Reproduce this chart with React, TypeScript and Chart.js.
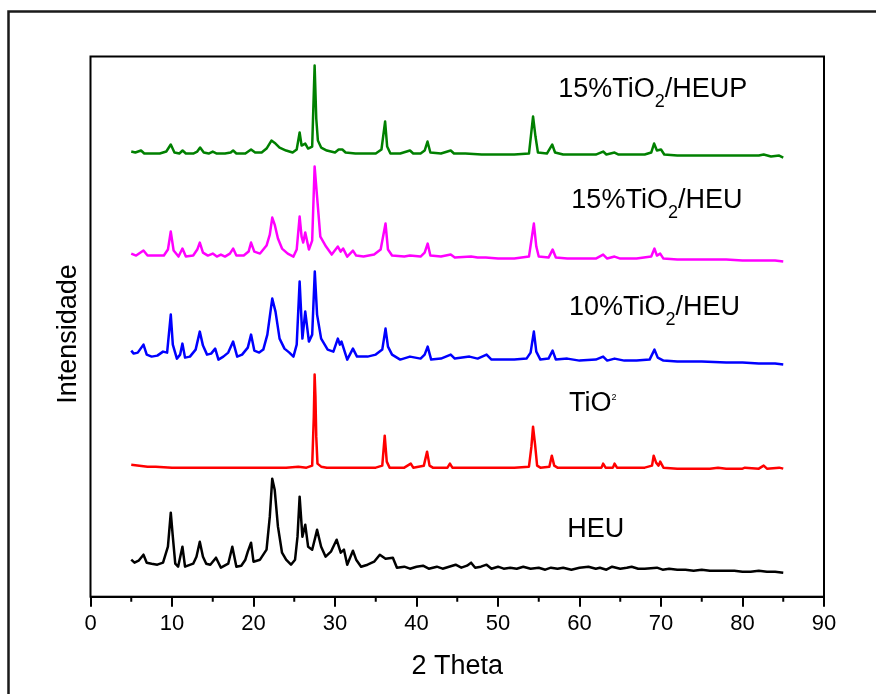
import { useEffect, useRef } from "react";
import { Chart, registerables } from "chart.js";

Chart.register(...registerables);

type Pt = [number, number];

// 2θ (degrees) vs. intensity (a.u.), each pattern already offset for the stacked view
const heu: Pt[] = [
  [5.0, 37], [5.4, 34], [5.9, 36], [6.5, 42], [6.9, 34], [7.5, 33], [8.2, 32], [8.9, 34], [9.5, 50],
  [9.85, 84], [10.1, 60], [10.4, 33], [10.75, 30], [11.28, 50], [11.6, 30], [12.6, 33], [13.0, 40],
  [13.41, 55], [13.8, 40], [14.2, 33], [14.7, 32], [15.4, 39], [16.0, 29], [16.9, 33], [17.4, 50],
  [17.9, 30], [18.5, 31], [19.0, 37], [19.3, 45], [19.7, 54], [20.0, 35], [20.8, 37], [21.6, 47],
  [22.0, 80], [22.3, 118], [22.6, 107], [23.0, 70], [23.5, 44], [24.0, 37], [24.6, 32], [25.1, 37],
  [25.4, 60], [25.66, 100], [26.0, 60], [26.35, 72], [26.7, 50], [27.2, 47], [27.6, 60], [27.8, 67],
  [28.3, 50], [28.85, 40], [29.5, 45], [30.2, 57], [30.7, 44], [31.1, 47], [31.5, 32], [32.2, 46],
  [32.6, 37], [33.2, 30], [34.0, 32], [34.8, 35], [35.5, 42], [36.2, 38], [37.1, 39], [37.6, 29],
  [38.5, 30], [39.2, 28], [40.0, 30], [40.8, 31], [41.5, 28], [42.5, 30], [43.2, 28], [44.0, 30],
  [44.8, 32], [45.5, 29], [46.2, 31], [46.7, 34], [47.2, 29], [47.9, 30], [48.6, 32], [49.2, 28],
  [50.0, 30], [50.7, 28], [51.5, 29], [52.3, 28], [53.1, 30], [54.0, 28], [55, 29], [55.8, 27],
  [56.5, 29], [57.3, 28], [58, 29], [59, 27], [60, 29], [61.1, 30], [62.0, 28], [62.5, 29], [63.3, 27],
  [64, 30], [65, 28], [65.8, 29], [66.4, 30], [67.2, 28], [68, 28], [69.5, 29], [70.2, 27],
  [71, 28], [72, 27], [73, 27], [74, 26], [75, 27], [76, 26], [77, 26], [78, 26], [79, 26], [80, 25],
  [81, 25], [82, 26], [83, 25], [84, 25], [85, 24],
];

const tio2: Pt[] = [
  [5.0, 132], [6.0, 131], [7.0, 130], [8.0, 130], [10, 129], [12, 129], [14, 129], [16, 129],
  [18, 129], [20, 129], [22, 129], [24, 129], [25.5, 130], [26.5, 129], [27.2, 131], [27.4, 180],
  [27.5, 222], [27.6, 200], [27.7, 160], [27.85, 133], [28.3, 130], [29, 129], [31, 129], [33, 129],
  [35, 129], [35.8, 131], [36.1, 161], [36.35, 135], [36.7, 129], [38.5, 129], [39.3, 133], [39.6, 129],
  [40.9, 131], [41.3, 145], [41.6, 131], [42, 129], [43.8, 129], [44.1, 133], [44.4, 129], [46, 129],
  [48, 129], [50, 129], [52, 129], [53.8, 130], [54.1, 150], [54.3, 170], [54.55, 152], [54.8, 131],
  [55.2, 129], [56.3, 130], [56.6, 141], [56.9, 131], [57.3, 129], [59, 129], [61, 129], [62.7, 129],
  [62.9, 133], [63.2, 129], [64.1, 129], [64.3, 133], [64.6, 129], [66, 129], [68, 129], [68.9, 131],
  [69.1, 141], [69.4, 134], [69.7, 131], [69.9, 135], [70.3, 129], [72, 128], [74, 128], [76, 128],
  [77, 129], [78, 128], [80, 128], [80.3, 129], [82, 128], [82.6, 131], [83, 128], [84.5, 129], [85, 128],
];

const tio2Heu10: Pt[] = [
  [5.0, 246], [5.3, 243], [5.8, 244], [6.5, 252], [6.9, 242], [7.5, 240], [8.2, 241], [8.9, 245],
  [9.4, 244], [9.85, 282], [10.1, 252], [10.6, 238], [11.0, 242], [11.28, 253], [11.6, 239], [12.2, 240],
  [12.9, 247], [13.41, 265], [13.8, 251], [14.3, 242], [14.8, 243], [15.3, 248], [15.7, 237], [16.3, 240],
  [16.9, 244], [17.5, 255], [18.0, 240], [18.6, 242], [19.3, 249], [19.7, 262], [20.1, 246], [20.7, 244],
  [21.2, 247], [21.7, 262], [22.0, 280], [22.3, 298], [22.7, 285], [23.2, 258], [23.8, 248], [24.4, 244],
  [24.9, 240], [25.3, 252], [25.66, 315], [26.0, 258], [26.35, 285], [26.8, 255], [27.2, 262], [27.52, 325],
  [27.8, 282], [28.3, 258], [29.1, 247], [29.8, 245], [30.35, 258], [30.6, 252], [30.8, 255], [31.5, 237],
  [32.2, 248], [32.7, 240], [34.0, 240], [35.0, 242], [35.8, 247], [36.2, 268], [36.5, 250], [37.0, 242],
  [38.0, 237], [39.2, 240], [40.5, 238], [41.0, 242], [41.37, 250], [41.8, 237], [43.0, 238], [44.2, 242],
  [44.7, 238], [46.5, 240], [47.5, 238], [48.6, 242], [49.2, 237], [50.5, 237], [52.0, 237], [53.5, 238],
  [54.0, 244], [54.4, 265], [54.7, 245], [55.2, 237], [56.2, 238], [56.7, 246], [57.1, 237], [58.5, 238],
  [60, 236], [62.0, 237], [62.9, 240], [63.4, 236], [64.3, 238], [65.5, 236], [67, 236], [68.6, 237],
  [69.2, 247], [69.6, 239], [70.3, 236], [72, 235], [75, 235], [78, 234], [80, 234], [82, 233], [84, 233], [85, 232],
];

const tio2Heu15: Pt[] = [
  [5.0, 343], [5.6, 341], [6.5, 346], [7.0, 341], [8.0, 341], [9.0, 341], [9.5, 347], [9.85, 365],
  [10.2, 346], [10.8, 340], [11.28, 348], [11.7, 340], [12.6, 341], [13.1, 347], [13.41, 354], [13.8, 344],
  [14.4, 341], [15.0, 343], [15.5, 340], [16.0, 342], [16.5, 340], [17.1, 343], [17.5, 348], [17.9, 341],
  [18.8, 341], [19.4, 345], [19.7, 354], [20.1, 345], [20.8, 343], [21.6, 351], [22.0, 362], [22.3, 379],
  [22.6, 372], [23.0, 358], [23.5, 348], [24.2, 343], [24.9, 340], [25.3, 347], [25.66, 380], [25.9, 360],
  [26.1, 354], [26.35, 364], [26.8, 347], [27.2, 356], [27.5, 430], [27.8, 400], [28.2, 360], [28.9, 350],
  [29.6, 342], [30.35, 350], [30.7, 345], [31.0, 348], [31.5, 340], [32.2, 346], [32.6, 341], [33.5, 340],
  [34.8, 342], [35.6, 347], [36.2, 373], [36.5, 347], [37.0, 341], [38.5, 340], [39.2, 341], [40.5, 340],
  [41.0, 344], [41.37, 353], [41.7, 341], [43.0, 340], [44.2, 342], [44.7, 339], [46.7, 340], [47.5, 339],
  [48.5, 339], [50, 338], [52, 338], [53.8, 340], [54.4, 373], [54.7, 350], [55.0, 340], [56.2, 339],
  [56.7, 347], [57.1, 339], [58.5, 338], [60, 338], [62.0, 338], [62.9, 342], [63.4, 338], [64.3, 340],
  [65, 338], [67, 338], [68.8, 340], [69.2, 348], [69.5, 341], [69.9, 343], [70.3, 338], [72, 337],
  [75, 337], [78, 337], [80, 336], [82, 336], [84, 336], [85, 335],
];

const tio2Heup15: Pt[] = [
  [5.0, 445], [5.5, 444], [6.2, 446], [6.6, 443], [7.5, 443], [8.5, 443], [9.3, 445], [9.85, 452],
  [10.3, 444], [10.9, 443], [11.3, 446], [11.7, 443], [12.6, 443], [13.1, 445], [13.45, 449], [13.9, 444],
  [14.5, 443], [15.0, 445], [15.5, 443], [16.5, 443], [17.2, 444], [17.5, 446], [17.9, 443], [19.0, 443],
  [19.7, 447], [20.2, 444], [21.0, 444], [21.6, 448], [22.2, 456], [22.7, 453], [23.2, 449], [24.0, 446],
  [24.8, 444], [25.3, 447], [25.66, 464], [25.9, 451], [26.35, 453], [26.7, 448], [27.2, 450], [27.5, 531],
  [27.7, 478], [27.9, 456], [28.3, 449], [29.0, 446], [30.0, 444], [30.45, 447], [30.9, 447], [31.3, 444],
  [32.5, 443], [34, 443], [35.0, 443], [35.7, 447], [36.15, 475], [36.4, 450], [36.8, 443], [38.0, 443],
  [39.2, 446], [39.6, 443], [40.5, 443], [41.0, 446], [41.35, 455], [41.7, 444], [43, 443], [44.2, 446],
  [44.6, 443], [46, 443], [48, 442], [50, 442], [52, 442], [53.8, 443], [54.3, 480], [54.6, 460],
  [54.9, 444], [56.0, 443], [56.65, 452], [57.0, 444], [58, 442], [60, 442], [62.0, 442], [62.9, 445],
  [63.3, 442], [64.3, 444], [64.8, 442], [66, 442], [68, 442], [68.8, 444], [69.15, 453], [69.5, 446],
  [70.0, 447], [70.4, 442], [72, 441], [75, 441], [78, 441], [80, 441], [82.0, 441], [82.6, 442],
  [83.5, 440], [84.5, 441], [85.0, 439],
];

const xMajorTicks = [0, 10, 20, 30, 40, 50, 60, 70, 80, 90];
const xMinorTicks = [5, 15, 25, 35, 45, 55, 65, 75, 85];

const FONT = "'Liberation Sans', Arial, sans-serif";

type Piece = { text: string; size: number; dy: number };

function drawRich(ctx: CanvasRenderingContext2D, pieces: Piece[], x: number, baseline: number) {
  let cx = x;
  ctx.textAlign = "left";
  ctx.textBaseline = "alphabetic";
  for (const p of pieces) {
    ctx.font = `${p.size}px ${FONT}`;
    ctx.fillText(p.text, cx, baseline + p.dy);
    cx += ctx.measureText(p.text).width;
  }
}

const decorPlugin = {
  id: "xrdDecor",
  afterDraw(chart: any) {
    const { ctx, chartArea } = chart;
    const xs = chart.scales.x;
    const ys = chart.scales.y;
    const { left, right, top, bottom } = chartArea;
    ctx.save();

    // outer frame (left and top edges)
    ctx.strokeStyle = "#1a1a1a";
    ctx.lineWidth = 2.5;
    ctx.beginPath();
    ctx.moveTo(8.5, chart.height);
    ctx.lineTo(8.5, 11.5);
    ctx.lineTo(chart.width, 11.5);
    ctx.stroke();

    // plot frame
    ctx.strokeStyle = "#000";
    ctx.lineWidth = 2;
    ctx.strokeRect(left, top, right - left, bottom - top);

    // minor ticks on the 2θ axis
    ctx.beginPath();
    for (const v of xMinorTicks) {
      const px = xs.getPixelForValue(v);
      ctx.moveTo(px, bottom);
      ctx.lineTo(px, bottom + 5);
    }
    ctx.stroke();

    ctx.fillStyle = "#000";
    // axis titles
    ctx.font = `27px ${FONT}`;
    ctx.textAlign = "center";
    ctx.textBaseline = "middle";
    ctx.fillText("2 Theta", (left + right) / 2, 667);
    ctx.save();
    ctx.translate(69, 334);
    ctx.rotate(-Math.PI / 2);
    ctx.fillText("Intensidade", 0, 0);
    ctx.restore();

    // pattern labels
    const lab = (x: number, y: number, pieces: Piece[]) =>
      drawRich(ctx, pieces, xs.getPixelForValue(x), ys.getPixelForValue(y));
    lab(57.4, 500, [
      { text: "15%TiO", size: 27, dy: 0 },
      { text: "2", size: 18, dy: 10 },
      { text: "/HEUP", size: 27, dy: 0 },
    ]);
    lab(59.0, 389, [
      { text: "15%TiO", size: 27, dy: 0 },
      { text: "2", size: 18, dy: 10 },
      { text: "/HEU", size: 27, dy: 0 },
    ]);
    lab(58.7, 282, [
      { text: "10%TiO", size: 27, dy: 0 },
      { text: "2", size: 18, dy: 10 },
      { text: "/HEU", size: 27, dy: 0 },
    ]);
    lab(58.7, 186, [
      { text: "TiO", size: 27, dy: 0 },
      { text: "2", size: 9, dy: -11 },
    ]);
    lab(58.5, 60, [{ text: "HEU", size: 27, dy: 0 }]);

    ctx.restore();
  },
};

const toXY = (pts: Pt[]) => pts.map(([x, y]) => ({ x, y }));

export default function App() {
  const canvasRef = useRef<HTMLCanvasElement | null>(null);

  useEffect(() => {
    if (!canvasRef.current) return;
    const line = (label: string, pts: Pt[], color: string) => ({
      label,
      data: toXY(pts),
      borderColor: color,
      backgroundColor: color,
      borderWidth: 2.5,
      pointRadius: 0,
      tension: 0,
      borderJoinStyle: "round" as const,
      fill: false,
    });
    const chart = new Chart(canvasRef.current, {
      type: "line",
      data: {
        datasets: [
          line("HEU", heu, "#000000"),
          line("TiO2", tio2, "#ff0000"),
          line("10%TiO2/HEU", tio2Heu10, "#0000ff"),
          line("15%TiO2/HEU", tio2Heu15, "#ff00ff"),
          line("15%TiO2/HEUP", tio2Heup15, "#008000"),
        ],
      },
      options: {
        responsive: false,
        animation: false,
        events: [],
        layout: { padding: { left: 90.5, right: 52, top: 56.5, bottom: 0 } },
        plugins: { legend: { display: false }, tooltip: { enabled: false } },
        scales: {
          x: {
            type: "linear",
            min: 0,
            max: 90,
            afterBuildTicks: (scale: any) => {
              scale.ticks = xMajorTicks.map((value) => ({ value }));
            },
            afterFit: (scale: any) => {
              scale.height = 97.3;
            },
            ticks: {
              color: "#000",
              font: { family: FONT, size: 22 },
              padding: 4,
              maxRotation: 0,
              autoSkip: false,
            },
            grid: {
              display: true,
              drawOnChartArea: false,
              drawTicks: true,
              tickLength: 10,
              color: "#000",
              lineWidth: 2,
            },
            border: { display: true, color: "#000", width: 2 },
          },
          y: {
            type: "linear",
            min: 0,
            max: 540,
            display: false,
          },
        },
      },
      plugins: [decorPlugin],
    });
    return () => chart.destroy();
  }, []);

  return (
    <div style={{ position: "fixed", left: 0, top: 0, width: 876, height: 694, background: "#fff" }}>
      <canvas ref={canvasRef} width={876} height={694} style={{ display: "block" }} />
    </div>
  );
}
